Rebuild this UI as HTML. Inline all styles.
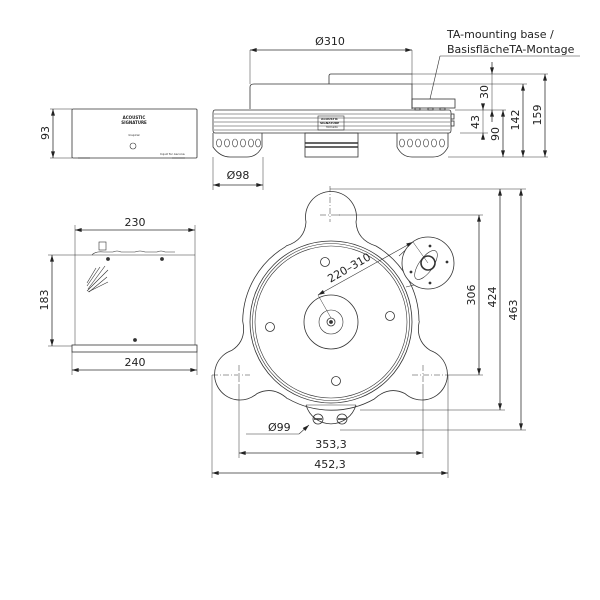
<!DOCTYPE html>
<html><head><style>
html,body{margin:0;padding:0;background:#fff;}
svg{display:block;}
text{font-family:"DejaVu Sans","Liberation Sans",sans-serif;fill:#222;}
</style></head><body>
<svg width="600" height="600" viewBox="0 0 600 600" xmlns="http://www.w3.org/2000/svg">
<defs>
<marker id="a" viewBox="0 0 10 6" refX="10" refY="3" markerWidth="7" markerHeight="4" orient="auto-start-reverse" markerUnits="userSpaceOnUse"><path d="M0,0 L10,3 L0,6z" fill="#222"/></marker>
</defs>
<g fill="none" stroke="#333" stroke-width="0.8">

<!-- ===== Side view of turntable ===== -->
<line x1="250" y1="50" x2="412" y2="50" marker-start="url(#a)" marker-end="url(#a)"/>
<line x1="250" y1="50" x2="250" y2="84" stroke-width="0.5"/>
<line x1="412" y1="50" x2="412" y2="84" stroke-width="0.5"/>
<!-- arm top -->
<path d="M329,84 V76 Q329,74 331,74 H412"/>
<line x1="412" y1="74" x2="548" y2="74" stroke-width="0.5"/>
<!-- platter -->
<path d="M250,109 V87 Q250,84 254,84 H412 V109"/>
<line x1="412" y1="84" x2="527" y2="84" stroke-width="0.5"/>
<!-- arm base -->
<rect x="412" y="99" width="43" height="9"/>
<rect x="428" y="108" width="5" height="2"/><rect x="440" y="108" width="5" height="2"/><rect x="415" y="108" width="5" height="2"/>
<!-- plinth -->
<path d="M215,110 H449 Q451,110 451,113 V130 Q451,133 449,133 H215 Q213,133 213,130 V113 Q213,110 215,110z"/>
<line x1="214" y1="114" x2="450" y2="114" stroke-width="0.5"/>
<line x1="214" y1="118" x2="450" y2="118" stroke-width="0.5"/>
<line x1="214" y1="122" x2="450" y2="122" stroke-width="0.5"/>
<line x1="214" y1="126" x2="450" y2="126" stroke-width="0.5"/>
<line x1="214" y1="130" x2="450" y2="130" stroke-width="0.5"/>
<rect x="451" y="114" width="3" height="5"/><rect x="451" y="121" width="3" height="5"/>
<line x1="455" y1="110" x2="506" y2="110" stroke-width="0.5"/>
<rect x="318" y="116" width="26" height="14" stroke-width="0.6"/>
<!-- feet -->
<path d="M213,133 V147 Q220,157 230,157 H247 Q257,157 262,147 V133"/>
<path d="M397,133 V147 Q402,157 412,157 H433 Q443,157 448,147 V133"/>
<g stroke-width="0.6">
<ellipse cx="219" cy="143" rx="2.5" ry="4"/><ellipse cx="227" cy="143" rx="2.5" ry="4"/><ellipse cx="235" cy="143" rx="2.5" ry="4"/><ellipse cx="243" cy="143" rx="2.5" ry="4"/><ellipse cx="251" cy="143" rx="2.5" ry="4"/><ellipse cx="258" cy="143" rx="2.5" ry="4"/>
<ellipse cx="402" cy="143" rx="2.5" ry="4"/><ellipse cx="410" cy="143" rx="2.5" ry="4"/><ellipse cx="418" cy="143" rx="2.5" ry="4"/><ellipse cx="426" cy="143" rx="2.5" ry="4"/><ellipse cx="434" cy="143" rx="2.5" ry="4"/><ellipse cx="442" cy="143" rx="2.5" ry="4"/>
</g>
<rect x="305" y="133" width="53" height="24"/>
<line x1="305" y1="143" x2="358" y2="143" stroke-width="1.5"/>
<line x1="305" y1="147" x2="358" y2="147" stroke-width="1.5"/>
<line x1="448" y1="157" x2="548" y2="157" stroke-width="0.5"/>
<!-- dims right -->
<line x1="492" y1="62" x2="492" y2="74" marker-end="url(#a)"/>
<line x1="492" y1="110" x2="492" y2="122" marker-start="url(#a)"/>
<line x1="492" y1="74" x2="492" y2="110" stroke-width="0.5"/>
<line x1="483" y1="106" x2="483" y2="110" marker-end="url(#a)"/>
<line x1="483" y1="133" x2="483" y2="140" marker-start="url(#a)"/>
<line x1="483" y1="110" x2="483" y2="133" stroke-width="0.5"/>
<line x1="460" y1="133" x2="488" y2="133" stroke-width="0.5"/>
<line x1="503" y1="110" x2="503" y2="157" marker-start="url(#a)" marker-end="url(#a)"/>
<line x1="523" y1="84" x2="523" y2="157" marker-start="url(#a)" marker-end="url(#a)"/>
<line x1="545" y1="74" x2="545" y2="157" marker-start="url(#a)" marker-end="url(#a)"/>
<!-- Ø98 -->
<line x1="213" y1="157" x2="213" y2="190" stroke-width="0.5"/>
<line x1="263" y1="157" x2="263" y2="190" stroke-width="0.5"/>
<line x1="213" y1="185" x2="263" y2="185" marker-start="url(#a)" marker-end="url(#a)"/>
<!-- label leader -->
<line x1="440" y1="56" x2="580" y2="56" stroke-width="0.6"/>
<line x1="440" y1="56" x2="430" y2="99" stroke-width="0.6"/>

<!-- ===== Controller front ===== -->
<rect x="72" y="109" width="125" height="49" rx="1"/>
<line x1="78" y1="158" x2="90" y2="158"/><line x1="172" y1="158" x2="185" y2="158"/>
<circle cx="133" cy="146" r="3" stroke-width="0.6"/>
<line x1="53" y1="109" x2="53" y2="158" marker-start="url(#a)" marker-end="url(#a)"/>
<line x1="50" y1="109" x2="72" y2="109" stroke-width="0.5"/>
<line x1="50" y1="158" x2="72" y2="158" stroke-width="0.5"/>

<!-- ===== Controller top ===== -->
<line x1="75" y1="230" x2="195" y2="230" marker-start="url(#a)" marker-end="url(#a)"/>
<line x1="75" y1="225" x2="75" y2="345" stroke-width="0.5"/>
<line x1="195" y1="225" x2="195" y2="345" stroke-width="0.5"/>
<line x1="48" y1="255" x2="195" y2="255" stroke-width="0.6"/>
<line x1="48" y1="346" x2="72" y2="346" stroke-width="0.5"/>
<rect x="72" y="345" width="125" height="7"/>
<rect x="99" y="242" width="7" height="8" stroke-width="0.6"/>
<path d="M92,255 Q95,251 104,252 H113 Q117,250 121,252 H135 Q140,250 145,252 H157 Q161,250 165,252 H175" stroke-width="0.6"/>
<circle cx="108" cy="259" r="1.5" fill="#333"/><circle cx="162" cy="259" r="1.5" fill="#333"/><circle cx="135" cy="340" r="1.5" fill="#333"/>
<g stroke-width="0.6"><line x1="87" y1="291" x2="108" y2="270"/><line x1="89" y1="292" x2="107" y2="277"/><line x1="88" y1="289" x2="105" y2="266"/><line x1="87" y1="286" x2="100" y2="267"/><line x1="88" y1="292" x2="108" y2="282"/><line x1="87" y1="283" x2="96" y2="268"/></g>
<line x1="52" y1="255" x2="52" y2="346" marker-start="url(#a)" marker-end="url(#a)"/>
<line x1="72" y1="352" x2="72" y2="375" stroke-width="0.5"/>
<line x1="197" y1="352" x2="197" y2="375" stroke-width="0.5"/>
<line x1="72" y1="370" x2="197" y2="370" marker-start="url(#a)" marker-end="url(#a)"/>

<!-- ===== Top view turntable ===== -->
<g transform="translate(331,322)">
<g id="piece"><path d="M-45,-76 Q-26,-82 -25,-100 A25.5,25.5 0 1 1 25,-100 Q26,-82 45,-76 A88,88 0 0 1 88,-1"/></g>
<use href="#piece" transform="rotate(120)"/>
<use href="#piece" transform="rotate(240)"/>
<circle r="81"/><circle r="78.5" stroke-width="0.6"/><circle r="76" stroke-width="0.6"/>
<circle r="27"/><circle r="12" stroke-width="0.6"/><circle r="4"/><circle r="1.5" fill="#333"/>
</g>
<circle cx="325" cy="262" r="4.5"/><circle cx="390" cy="316" r="4.5"/><circle cx="270" cy="327" r="4.5"/><circle cx="336" cy="381" r="4.5"/>
<!-- arm mount -->
<line x1="399" y1="256" x2="412" y2="244" stroke-width="0.6"/>
<line x1="406" y1="287" x2="418" y2="284" stroke-width="0.6"/>
<circle cx="428" cy="263" r="26" fill="#fff"/>
<ellipse cx="426" cy="265" rx="17" ry="7" transform="rotate(-55 426 265)" stroke-width="0.6"/>
<circle cx="428" cy="263" r="7" stroke-width="1.6"/>
<circle cx="430" cy="246" r="1" fill="#333"/><circle cx="447" cy="262" r="1" fill="#333"/><circle cx="411" cy="272" r="1" fill="#333"/><circle cx="430" cy="283" r="1" fill="#333"/>
<!-- 220-310 -->
<line x1="318" y1="295" x2="413" y2="242" marker-start="url(#a)" marker-end="url(#a)" stroke-width="0.6"/>
<line x1="318" y1="295" x2="331" y2="318" stroke-width="0.5"/>
<line x1="413" y1="242" x2="428" y2="263" stroke-width="0.5"/>
<!-- center lines -->
<g stroke-dasharray="6,2,1,2" stroke-width="0.5">
<line x1="330" y1="186" x2="330" y2="222"/><line x1="320" y1="215" x2="340" y2="215"/>
<line x1="212" y1="375" x2="250" y2="375"/><line x1="239" y1="365" x2="239" y2="385"/>
<line x1="412" y1="375" x2="450" y2="375"/><line x1="423" y1="365" x2="423" y2="385"/>
</g>
<!-- bottom connector -->
<path d="M306,405 A26,26 0 0 0 356,405" />
<line x1="306" y1="405" x2="356" y2="405" stroke-width="0.5"/>
<circle cx="318" cy="419" r="5"/><circle cx="342" cy="419" r="5"/>
<line x1="314" y1="419" x2="322" y2="419" stroke-width="1.5"/><line x1="338" y1="419" x2="346" y2="419" stroke-width="1.5"/>
<line x1="246" y1="434" x2="299" y2="434" stroke-width="0.6"/>
<line x1="299" y1="434" x2="309" y2="425" marker-end="url(#a)" stroke-width="0.6"/>
<!-- dims -->
<line x1="337" y1="215" x2="483" y2="215" stroke-width="0.5"/>
<line x1="450" y1="375" x2="483" y2="375" stroke-width="0.5"/>
<line x1="479" y1="215" x2="479" y2="375" marker-start="url(#a)" marker-end="url(#a)"/>
<line x1="330" y1="189" x2="526" y2="189" stroke-width="0.5"/>
<line x1="360" y1="410" x2="505" y2="410" stroke-width="0.5"/>
<line x1="340" y1="430" x2="526" y2="430" stroke-width="0.5"/>
<line x1="500" y1="189" x2="500" y2="410" marker-start="url(#a)" marker-end="url(#a)"/>
<line x1="521" y1="189" x2="521" y2="430" marker-start="url(#a)" marker-end="url(#a)"/>
<line x1="239" y1="385" x2="239" y2="458" stroke-width="0.5"/>
<line x1="423" y1="385" x2="423" y2="458" stroke-width="0.5"/>
<line x1="212" y1="375" x2="212" y2="478" stroke-width="0.5"/>
<line x1="448" y1="375" x2="448" y2="478" stroke-width="0.5"/>
<line x1="239" y1="453" x2="423" y2="453" marker-start="url(#a)" marker-end="url(#a)"/>
<line x1="212" y1="473" x2="448" y2="473" marker-start="url(#a)" marker-end="url(#a)"/>
</g>

<g font-size="11">
<text x="330" y="45" text-anchor="middle">Ø310</text>
<text x="447" y="38">TA-mounting base /</text>
<text x="447" y="53">BasisflächeTA-Montage</text>
<text transform="translate(488,92) rotate(-90)" text-anchor="middle">30</text>
<text transform="translate(479,122) rotate(-90)" text-anchor="middle">43</text>
<text transform="translate(499,134) rotate(-90)" text-anchor="middle">90</text>
<text transform="translate(519,120) rotate(-90)" text-anchor="middle">142</text>
<text transform="translate(541,115) rotate(-90)" text-anchor="middle">159</text>
<text x="238" y="179" text-anchor="middle">Ø98</text>
<text transform="translate(49,133) rotate(-90)" text-anchor="middle">93</text>
<text x="135" y="226" text-anchor="middle">230</text>
<text transform="translate(48,300) rotate(-90)" text-anchor="middle">183</text>
<text x="135" y="366" text-anchor="middle">240</text>
<text transform="translate(351,271) rotate(-30)" text-anchor="middle">220–310</text>
<text transform="translate(475,295) rotate(-90)" text-anchor="middle">306</text>
<text transform="translate(496,297) rotate(-90)" text-anchor="middle">424</text>
<text transform="translate(517,310) rotate(-90)" text-anchor="middle">463</text>
<text x="268" y="431">Ø99</text>
<text x="331" y="448" text-anchor="middle">353,3</text>
<text x="330" y="468" text-anchor="middle">452,3</text>
</g>
<g font-size="4" font-weight="bold">
<text x="134" y="119" text-anchor="middle">ACOUSTIC</text>
<text x="134" y="124" text-anchor="middle">SIGNATURE</text>
<text x="321" y="120" font-size="3">ACOUSTIC</text>
<text x="320" y="124" font-size="3">SIGNATURE</text>
</g>
<g font-size="3"><text x="134" y="136" text-anchor="middle">Inspiral</text><text x="160" y="155">Input for Ascona</text><text x="326" y="128">Tornado</text></g>
</svg>
</body></html>
